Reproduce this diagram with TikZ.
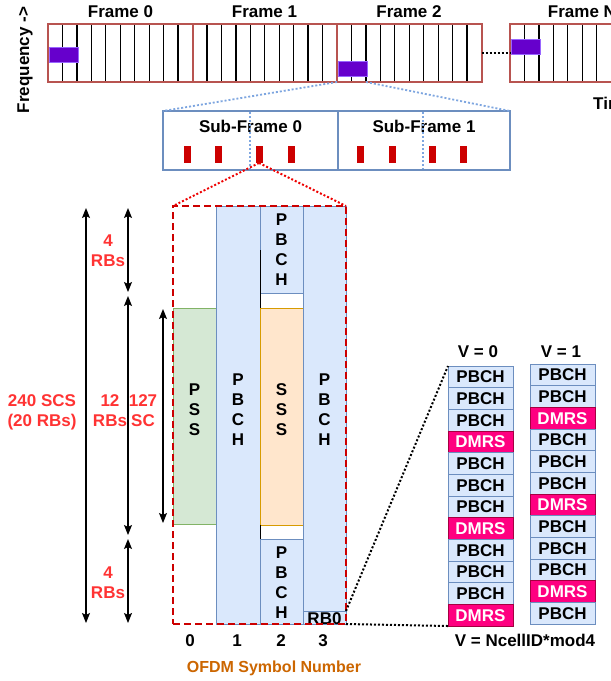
\documentclass[tikz,border=0pt]{standalone}
\usepackage{fontspec}
\setmainfont{Liberation Sans}
\usetikzlibrary{arrows.meta,calc}
\definecolor{frred}{HTML}{B85450}
\definecolor{purp}{HTML}{6600CC}
\definecolor{purpb}{HTML}{9966FF}
\definecolor{bbord}{HTML}{6C8EBF}
\definecolor{bfill}{HTML}{DAE8FC}
\definecolor{bdot}{HTML}{7EA6E0}
\definecolor{barred}{HTML}{CC0000}
\definecolor{boxred}{HTML}{CC0000}
\definecolor{dotred}{HTML}{EE0000}
\definecolor{lblred}{HTML}{FF3333}
\definecolor{gfill}{HTML}{D5E8D4}
\definecolor{gbord}{HTML}{82B366}
\definecolor{ofill}{HTML}{FFE6CC}
\definecolor{obord}{HTML}{D79B00}
\definecolor{dmfill}{HTML}{FF0080}
\definecolor{dmbord}{HTML}{A50040}
\definecolor{ofdm}{HTML}{CC6600}
\begin{document}
\begin{tikzpicture}[x=1pt,y=-1pt,
  every node/.style={font=\fontsize{17}{20}\selectfont\bfseries},
  rect/.style={anchor=north west, inner sep=0pt, outer sep=0pt},
  framebox/.style={rect, draw=frred, line width=2pt, minimum width=144.5pt, minimum height=58pt},
  slotline/.style={black, line width=1.3pt},
  purpblk/.style={rect, fill=purp, draw=purpb, line width=0.6pt, minimum width=29pt, minimum height=15pt},
  subbox/.style={rect, draw=bbord, line width=2pt, minimum height=59pt},
  rbar/.style={fill=barred, inner sep=0pt, outer sep=0pt, minimum width=7pt, minimum height=17pt},
  bluedots/.style={draw=bdot, line width=1.8pt, dash pattern=on 2pt off 2pt},
  reddots/.style={draw=dotred, line width=2pt, dash pattern=on 2pt off 2pt},
  blackdots/.style={draw=black, line width=2pt, dash pattern=on 2pt off 2pt},
  pbcol/.style={rect, draw=bbord, fill=bfill, line width=1pt},
  psscol/.style={rect, draw=gbord, fill=gfill, line width=1pt},
  ssscol/.style={rect, draw=obord, fill=ofill, line width=1pt},
  vtext/.style={align=center, inner sep=0pt},
  redlbl/.style={text=lblred, align=center, inner sep=0pt},
  dimarrow/.style={line width=1.2pt, {Stealth[length=10pt,width=8pt,inset=2pt]}-{Stealth[length=10pt,width=8pt,inset=2pt]}},
  cell/.style={rect, line width=1pt, minimum width=65pt, minimum height=21.67pt},
  pb/.style={cell, draw=bbord, fill=bfill, text=black},
  dm/.style={cell, draw=dmbord, fill=dmfill, text=white},
  boxdash/.style={rect, draw=boxred, line width=2.5pt, dash pattern=on 7pt off 4pt},
]
\useasboundingbox (0,0) rectangle (611,681);
\clip (0,0) rectangle (611,681);
\fill[white] (0,0) rectangle (611,681);

% ---------- frames ----------
\node[framebox] (f0) at (48,24) {};
\node[framebox] (f1) at (192.5,24) {};
\node[framebox] (f2) at (337,24) {};
\node[framebox] (fN) at (510,24) {};
\foreach \f in {f0,f1,f2,fN}{
  \foreach \k in {1,...,9}{
    \draw[slotline] ($(\f.north west)+(\k*14.45,1)$) -- ($(\f.south west)+(\k*14.45,-1)$);
  }
}
\node[purpblk] (p0) at (49,47) {};
\node[purpblk] (p2) at (338,61) {};
\node[purpblk] (pN) at (511,39) {};

\node (lf0) at (120.5,12) {Frame 0};
\node (lf1) at (264.5,12) {Frame 1};
\node (lf2) at (409,12) {Frame 2};
\node (lfN) at (582,12) {Frame N};
\node[anchor=west, inner sep=0pt] (time) at (593,103) {Time ->};
\node[rotate=90] (freq) at (25,60) {Frequency ->};

\draw[blackdots] (f2.east) -- (fN.west);

% ---------- sub-frames ----------
\node[subbox, minimum width=175pt] (sf0) at (163,111) {};
\node[subbox, minimum width=172pt] (sf1) at (338,111) {};
\node (lsf0) at (250.5,126) {Sub-Frame 0};
\node (lsf1) at (424,126) {Sub-Frame 1};
\draw[bluedots] ($(sf0.north)+(-0.5,1)$) -- ($(sf0.south)+(-0.5,-1)$);
\draw[bluedots] ($(sf1.north)+(-1,1)$) -- ($(sf1.south)+(-1,-1)$);
\node[rbar] (b1) at (187,154.5) {};
\node[rbar] (b2) at (218,154.5) {};
\node[rbar] (b3) at (259,154.5) {};
\node[rbar] (b4) at (291,154.5) {};
\node[rbar] (b5) at (360,154.5) {};
\node[rbar] (b6) at (392,154.5) {};
\node[rbar] (b7) at (432,154.5) {};
\node[rbar] (b8) at (463,154.5) {};

\coordinate (p2se) at ($(f2.south west)+(29,0)$);
\draw[bluedots] (f2.south west) -- (sf0.north west);
\draw[bluedots] (p2se) -- (sf1.north east);

% ---------- SSB columns ----------
\node[psscol, minimum width=43pt, minimum height=216pt] (pss) at (173,308) {};
\node[pbcol, minimum width=44pt, minimum height=418pt] (c1) at (216,206) {};
\node[pbcol, minimum width=43pt, minimum height=87pt] (c2t) at (260,206) {};
\node[ssscol, minimum width=43pt, minimum height=217pt] (sss) at (260,308) {};
\node[pbcol, minimum width=43pt, minimum height=85pt] (c2b) at (260,539) {};
\node[pbcol, minimum width=43pt, minimum height=405pt] (c3) at (303,206) {};
\node[pbcol, minimum width=43pt, minimum height=13pt] (rb0) at (303,611) {};
\draw[black, line width=1pt] (260,250) -- (260,308);
\draw[black, line width=1pt] (260,525) -- (260,539);

\node[vtext] (tpss) at (194.5,410) {P\\S\\S};
\node[vtext] (tc1) at (238,410) {P\\B\\C\\H};
\node[vtext] (tc2t) at (281.5,250) {P\\B\\C\\H};
\node[vtext] (tsss) at (281.5,410) {S\\S\\S};
\node[vtext] (tc2b) at (281.5,583) {P\\B\\C\\H};
\node[vtext] (tc3) at (324.5,410) {P\\B\\C\\H};
\node[inner sep=0pt] (trb0) at (324.5,618.5) {RB0};

\node[boxdash, minimum width=173pt, minimum height=418pt] (box) at (173,206) {};
\draw[reddots] (b3.south) -- (box.north west);
\draw[reddots] (b3.south) -- (box.north east);

% ---------- dimension arrows ----------
\coordinate (a1t) at (86,208);  \coordinate (a1b) at (86,623);
\coordinate (a2t) at (128,208); \coordinate (a2b) at (128,292);
\coordinate (a3t) at (128,296); \coordinate (a3b) at (128,535);
\coordinate (a4t) at (128,539); \coordinate (a4b) at (128,623);
\coordinate (a5t) at (163,309); \coordinate (a5b) at (163,523);
\draw[dimarrow] (a1t) -- (a1b);
\draw[dimarrow] (a2t) -- (a2b);
\draw[dimarrow] (a3t) -- (a3b);
\draw[dimarrow] (a4t) -- (a4b);
\draw[dimarrow] (a5t) -- (a5b);

\node[redlbl] (l4a) at (108,251) {4\\RBs};
\node[redlbl] (l240) at (42,412) {240 SCS\\(20 RBs)};
\node[redlbl] (l12) at (110,411) {12\\RBs};
\node[redlbl] (l127) at (143,411) {127\\SC};
\node[redlbl] (l4b) at (108,583) {4\\RBs};

\node (n0) at (190,641) {0};
\node (n1) at (237,641) {1};
\node (n2) at (281,641) {2};
\node (n3) at (323,641) {3};
\node[text=ofdm, font=\fontsize{16}{19}\selectfont\bfseries] (ofdm) at (274,668) {OFDM Symbol Number};

% ---------- DMRS position grids ----------
\foreach \i/\s/\t in {0/pb/PBCH,1/pb/PBCH,2/pb/PBCH,3/dm/DMRS,4/pb/PBCH,5/pb/PBCH,6/pb/PBCH,7/dm/DMRS,8/pb/PBCH,9/pb/PBCH,10/pb/PBCH,11/dm/DMRS}{
  \node[\s] (va\i) at (448,{366+\i*21.667}) {\t};
}
\foreach \i/\s/\t in {0/pb/PBCH,1/pb/PBCH,2/dm/DMRS,3/pb/PBCH,4/pb/PBCH,5/pb/PBCH,6/dm/DMRS,7/pb/PBCH,8/pb/PBCH,9/pb/PBCH,10/dm/DMRS,11/pb/PBCH}{
  \node[\s] (vb\i) at (530,{364+\i*21.667}) {\t};
}
\node (lv0) at (478,352) {V = 0};
\node (lv1) at (561,352) {V = 1};
\node (lvf) at (525,640) {V = NcellID*mod4};

\draw[blackdots] (rb0.north east) -- (va0.north west);
\draw[blackdots] (rb0.south east) -- (va11.south west);
\end{tikzpicture}
\end{document}
